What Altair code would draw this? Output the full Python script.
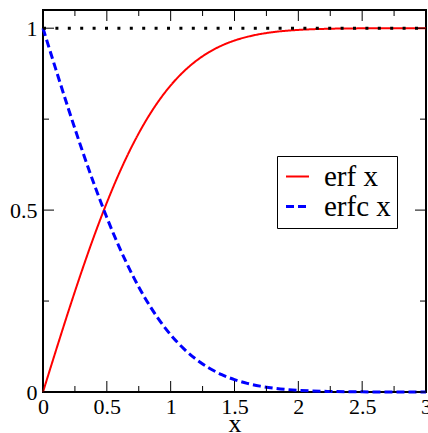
import altair as alt
import pandas as pd

# Sample points along x and the tabulated function values
x_vals = [0.0, 0.1, 0.2, 0.3, 0.4, 0.5, 0.6, 0.7, 0.8, 0.9, 1.0,
          1.1, 1.2, 1.3, 1.4, 1.5, 1.6, 1.7, 1.8, 1.9, 2.0,
          2.1, 2.2, 2.3, 2.4, 2.5, 2.6, 2.7, 2.8, 2.9, 3.0]
erf_vals = [0.0, 0.1125, 0.2227, 0.3286, 0.4284, 0.5205, 0.6039, 0.6778, 0.7421, 0.7969, 0.8427,
            0.8802, 0.9103, 0.9340, 0.9523, 0.9661, 0.9763, 0.9838, 0.9891, 0.9928, 0.9953,
            0.9970, 0.9981, 0.9989, 0.9993, 0.9996, 0.9998, 0.9999, 0.9999, 1.0, 1.0]
erfc_vals = [1.0, 0.8875, 0.7773, 0.6714, 0.5716, 0.4795, 0.3961, 0.3222, 0.2579, 0.2031, 0.1573,
             0.1198, 0.0897, 0.0660, 0.0477, 0.0339, 0.0237, 0.0162, 0.0109, 0.0072, 0.0047,
             0.0030, 0.0019, 0.0011, 0.0007, 0.0004, 0.0002, 0.0001, 0.0001, 0.0, 0.0]
series_names = ["erf x", "erfc x"]
asymptote = [1.0]

x_major = [0.0, 0.5, 1.0, 1.5, 2.0, 2.5, 3.0]
x_minor = [0.25, 0.75, 1.25, 1.75, 2.25, 2.75]
y_major = [0.0, 0.5, 1.0]
y_minor = [0.25, 0.75]

W, H = 383, 382
FONT = "Liberation Serif"

curves = pd.DataFrame({
    "x": x_vals * 2,
    "y": erf_vals + erfc_vals,
    "series": [series_names[0]] * len(x_vals) + [series_names[1]] * len(x_vals),
})

xscale = alt.Scale(domain=[0, 3], nice=False, zero=False)
yscale = alt.Scale(domain=[0, 1.05], nice=False, zero=False)

x_axis = alt.Axis(values=x_major, format="~g", ticks=False, domain=False, grid=False,
                  labelFont=FONT, labelFontSize=22, labelColor="black", labelPadding=4,
                  labelFlush=False, labelOverlap=False,
                  title="x", titleFont=FONT, titleFontSize=26, titleFontWeight="normal",
                  titleColor="black", titlePadding=-7)
y_axis = alt.Axis(values=y_major, format="~g", ticks=False, domain=False, grid=False,
                  labelFont=FONT, labelFontSize=22, labelColor="black", labelPadding=6,
                  labelFlush=False, labelOverlap=False, title=None)

legend = alt.Legend(
    title=None, orient="none", legendX=234, legendY=146,
    fillColor="white", strokeColor="black", padding=6, cornerRadius=0,
    labelFont=FONT, labelFontSize=29, labelColor="black", labelOffset=12,
    symbolType="stroke", symbolSize=529, rowPadding=0,
)

lines = alt.Chart(curves).mark_line(interpolate="monotone").encode(
    x=alt.X("x:Q", scale=xscale, axis=x_axis),
    y=alt.Y("y:Q", scale=yscale, axis=y_axis),
    color=alt.Color("series:N", scale=alt.Scale(domain=series_names, range=["#ff0000", "#0000ff"]),
                    legend=legend),
    strokeDash=alt.StrokeDash("series:N", scale=alt.Scale(domain=series_names, range=[[1, 0], [8, 4]]),
                              legend=legend),
    strokeWidth=alt.StrokeWidth("series:N", scale=alt.Scale(domain=series_names, range=[2, 3]),
                                legend=legend),
)

dotted = alt.Chart(pd.DataFrame({"y": asymptote})).mark_rule(
    color="black", strokeWidth=3, strokeDash=[3, 9.4]
).encode(y=alt.Y("y:Q", scale=yscale), x=alt.value(0), x2=alt.value(W))

def xticks(vals, length):
    df = pd.DataFrame({"x": vals})
    base = alt.Chart(df).mark_rule(color="black", strokeWidth=1)
    return [
        base.encode(x=alt.X("x:Q", scale=xscale), y=alt.value(H), y2=alt.value(H - length)),
        base.encode(x=alt.X("x:Q", scale=xscale), y=alt.value(0), y2=alt.value(length)),
    ]

def yticks(vals, length):
    df = pd.DataFrame({"y": vals})
    base = alt.Chart(df).mark_rule(color="black", strokeWidth=1)
    return [
        base.encode(y=alt.Y("y:Q", scale=yscale), x=alt.value(0), x2=alt.value(length)),
        base.encode(y=alt.Y("y:Q", scale=yscale), x=alt.value(W), x2=alt.value(W - length)),
    ]

tick_layers = xticks(x_major, 11) + xticks(x_minor, 6) + yticks(y_major, 11) + yticks(y_minor, 6)

chart = alt.layer(lines, dotted, *tick_layers).properties(
    width=W, height=H,
    background="white",
    autosize=alt.AutoSizeParams(type="none"),
    padding={"left": 43, "top": 10, "right": 2, "bottom": 41},
).configure_view(
    stroke="black", strokeWidth=2
)

chart.save("out.html", embed_options={"renderer": "svg", "actions": False})
